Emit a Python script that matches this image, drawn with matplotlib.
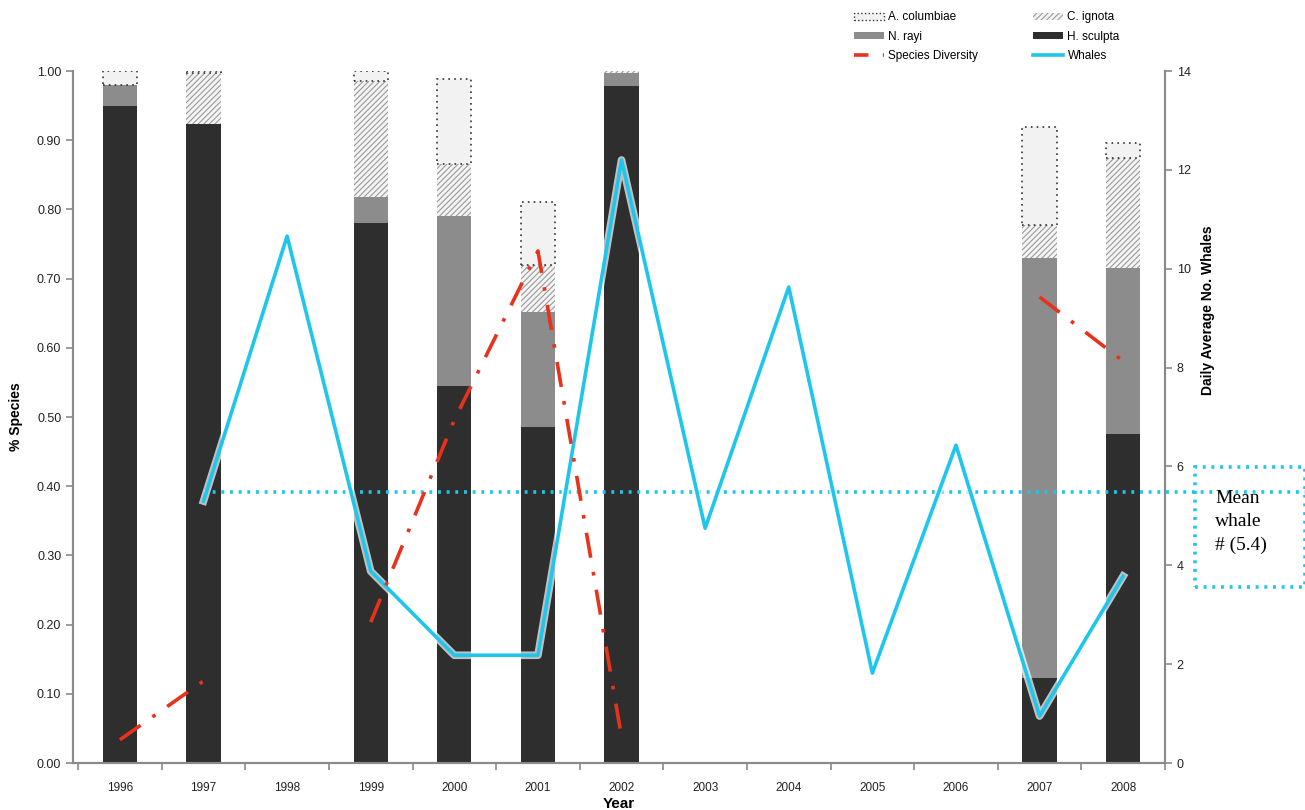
import numpy as np
import matplotlib.pyplot as plt
import matplotlib.patches as patches
import matplotlib.patheffects as pe
from matplotlib.lines import Line2D

plt.rcParams['font.family'] = ['Liberation Sans', 'DejaVu Sans']

# data
years = ['1996', '1997', '1998', '1999', '2000', '2001', '2002',
         '2003', '2004', '2005', '2006', '2007', '2008']
h_sculpta = [0.950, 0.923, 0, 0.780, 0.545, 0.485, 0.978, 0, 0, 0, 0, 0.123, 0.475]
n_rayi = [0.030, 0.000, 0, 0.038, 0.245, 0.167, 0.019, 0, 0, 0, 0, 0.607, 0.240]
c_ignota = [0.000, 0.074, 0, 0.167, 0.076, 0.068, 0.003, 0, 0, 0, 0, 0.047, 0.159]
a_columbiae = [0.020, 0.003, 0, 0.015, 0.122, 0.091, 0.000, 0, 0, 0, 0, 0.142, 0.022]
whales = [np.nan, 5.3, 10.66, 3.88, 2.18, 2.18, 12.2, 4.75, 9.63, 1.82, 6.43, 0.95, 3.78]
diversity = [0.47, 1.66, np.nan, 2.85, 6.94, 10.36, 0.53, np.nan, np.nan, np.nan, np.nan, 9.43, 8.13]
mean_whale = 5.48

c_dark = '#2e2e2e'
c_mid = '#8c8c8c'
c_cyan = '#1ec6ee'
c_red = '#e8321c'
c_axis = '#8a8a8a'

fig = plt.figure(figsize=(13.05, 8.1), dpi=100)
ax = fig.add_axes([0.056, 0.058, 0.8367, 0.8543])
ax2 = ax.twinx()

x = np.arange(len(years))
w = 0.41
h = np.array(h_sculpta)
n = np.array(n_rayi)
c = np.array(c_ignota)
a = np.array(a_columbiae)

ax.bar(x, h, w, color=c_dark, linewidth=0, zorder=2)
ax.bar(x, n, w, bottom=h, color=c_mid, linewidth=0, zorder=2)
plt.rcParams['hatch.linewidth'] = 0.8
ax.bar(x, c, w, bottom=h + n, facecolor='#f4f4f4', edgecolor='#9a9a9a',
       hatch='//////', linewidth=0, zorder=2)
mask = a > 0
ax.bar(x[mask], a[mask], w, bottom=(h + n + c)[mask], facecolor='#f2f2f2',
       edgecolor='#333333', linestyle=(0, (1, 2.5)), linewidth=1.2, zorder=2)

ax.set_xlim(-0.56, 12.5)
ax.set_ylim(0, 1.0)
ax.set_yticks(np.arange(0, 1.01, 0.1))
ax.set_yticklabels([f'{v:.2f}' for v in np.arange(0, 1.01, 0.1)])
ax.set_xticks(x)
ax.set_xticklabels(years)
ax.set_xticks(np.arange(-0.5, 12.6, 1.0), minor=True)
ax.tick_params(axis='x', which='major', length=0, pad=14, labelsize=8.5, colors='#222222')
ax.tick_params(axis='x', which='minor', length=5, direction='out', color=c_axis, width=1.2)
ax.tick_params(axis='y', length=5, direction='out', color=c_axis, width=1.2,
               labelsize=9, colors='#222222')

ax2.set_ylim(0, 14)
ax2.set_yticks(range(0, 15, 2))
ax2.tick_params(axis='y', length=5, direction='out', color=c_axis, width=1.2,
                labelsize=9, colors='#222222')

for axx in (ax, ax2):
    axx.spines['top'].set_visible(False)
    for s in ('left', 'right', 'bottom'):
        axx.spines[s].set_color(c_axis)
        axx.spines[s].set_linewidth(1.5)

ax.set_ylabel('% Species', fontsize=10, fontweight='bold', labelpad=10)
ax.set_xlabel('Year', fontsize=11, fontweight='bold', labelpad=2)
ax2.set_ylabel('Daily Average No. Whales', fontsize=10, fontweight='bold')
ax2.yaxis.set_label_coords(1.033, 0.655)

# whales and diversity lines
ax2.plot(x, whales, color=c_cyan, linewidth=2.6, zorder=4,
         path_effects=[pe.Stroke(linewidth=5.5, foreground='white', alpha=0.7), pe.Normal()])
ax2.plot(x, diversity, color=c_red, linewidth=2.6, linestyle=(0, (7, 4, 1, 4)), zorder=5)

# mean whale line runs out to the box
ax2.plot([1, 14.2], [mean_whale, mean_whale], color=c_cyan, linewidth=2.6,
         linestyle=(0, (0.8, 1.6)), zorder=3, clip_on=False)
box = patches.Rectangle((1195 / 1305, (810 - 587) / 810), 110 / 1305, 120 / 810,
                        transform=fig.transFigure, fill=False, edgecolor=c_cyan,
                        linewidth=2.6, linestyle=(0, (0.8, 1.6)))
fig.patches.append(box)
fig.text(1215 / 1305, (810 - 522) / 810, 'Mean\nwhale\n# (5.4)', family='Liberation Serif',
         fontsize=14, va='center', ha='left', linespacing=1.45)

# legend
handles = [
    patches.Patch(facecolor='#f2f2f2', edgecolor='#333333', linestyle=':', linewidth=1, label='A. columbiae'),
    patches.Patch(facecolor=c_mid, linewidth=0, label='N. rayi'),
    Line2D([], [], color=c_red, linewidth=2.6, linestyle=(0, (4, 4, 1, 4)), label='Species Diversity'),
    patches.Patch(facecolor='#f4f4f4', edgecolor='#9a9a9a', hatch='//////', linewidth=0, label='C. ignota'),
    patches.Patch(facecolor=c_dark, linewidth=0, label='H. sculpta'),
    Line2D([], [], color=c_cyan, linewidth=2.6, label='Whales'),
]
fig.legend(handles=handles, loc='upper left', bbox_to_anchor=(0.646, 0.999), ncol=2,
           frameon=False, fontsize=8.5, handlelength=2.6, handleheight=0.5,
           columnspacing=4.6, labelspacing=0.6, handletextpad=0.35)

fig.savefig('out.png', dpi=100)
